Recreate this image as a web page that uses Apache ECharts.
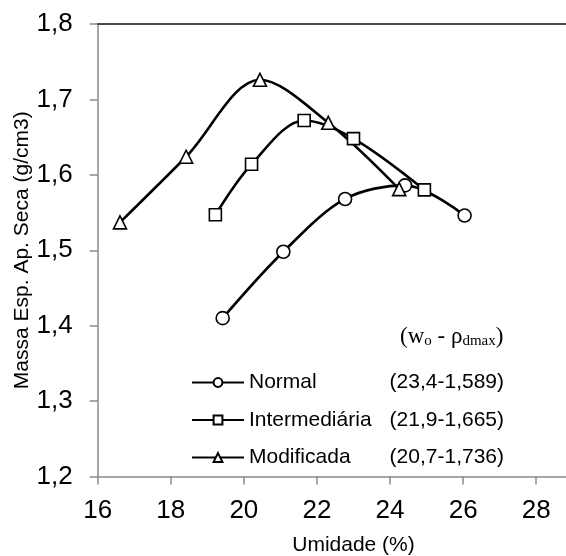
<!DOCTYPE html>
<html>
<head>
<meta charset="utf-8">
<script src="https://cdn.jsdelivr.net/npm/echarts@6/dist/echarts.min.js"></script>
<style>
html,body{margin:0;padding:0;background:#fff;}
#c{width:566px;height:556px;}
</style>
</head>
<body>
<div id="c"></div>
<script>
// Data
const seriesNames = ['Normal', 'Intermediária', 'Modificada'];
const optimumLabels = ['(23,4-1,589)', '(21,9-1,665)', '(20,7-1,736)'];
const normalX = [19.42, 21.08, 22.77, 24.41, 26.04];
const normalY = [1.410, 1.498, 1.568, 1.586, 1.546];
const interX = [19.22, 20.21, 21.65, 23.00, 24.94];
const interY = [1.547, 1.614, 1.672, 1.648, 1.580];
const modX = [16.61, 18.42, 20.44, 22.31, 24.25];
const modY = [1.537, 1.624, 1.726, 1.669, 1.581];
const symbols = ['circle', 'rect', 'triangle'];

const xs = [normalX, interX, modX];
const ys = [normalY, interY, modY];

const FONT = 'Liberation Sans, Arial, sans-serif';
const SERIF = 'Liberation Serif, Times New Roman, serif';
const chart = echarts.init(document.getElementById('c'), null, {renderer: 'canvas'});

const series = seriesNames.map((name, i) => ({
  name: name,
  type: 'line',
  smooth: 0.33,
  data: xs[i].map((x, k) => [x, ys[i][k]]),
  symbol: symbols[i],
  symbolSize: i === 1 ? 12 : 13,
  showAllSymbol: true,
  lineStyle: {color: '#000', width: 2.6},
  itemStyle: {color: '#fff', borderColor: '#000', borderWidth: 1.6},
  emphasis: {disabled: true},
  animation: false
}));

const labelMap = {};
seriesNames.forEach((n, i) => { labelMap[n] = optimumLabels[i]; });

chart.setOption({
  animation: false,
  backgroundColor: '#fff',
  grid: {left: 97.7, top: 24, right: -43.3, bottom: 79.5, outerBoundsMode: 'none'},
  xAxis: [{
    type: 'value', min: 16, max: 30, interval: 2, position: 'bottom',
    name: 'Umidade (%)', nameLocation: 'middle', nameGap: 58,
    nameTextStyle: {fontFamily: FONT, fontSize: 21, color: '#000'},
    axisLine: {show: true, onZero: false, lineStyle: {color: '#8a8a8a', width: 1.5}},
    axisTick: {show: true, length: 8, lineStyle: {color: '#8a8a8a', width: 1.5}},
    axisLabel: {fontFamily: FONT, fontSize: 26, color: '#000', margin: 21, showMaxLabel: false},
    splitLine: {show: false}
  }, {
    type: 'value', min: 16, max: 30, interval: 2, position: 'top',
    axisLine: {show: true, onZero: false, lineStyle: {color: '#111', width: 1.5}},
    axisTick: {show: false}, axisLabel: {show: false}, splitLine: {show: false}
  }],
  yAxis: {
    type: 'value', min: 1.2, max: 1.8, interval: 0.1,
    name: 'Massa Esp. Ap. Seca (g/cm3)', nameLocation: 'middle', nameGap: 65,
    nameMoveOverlap: false,
    nameTextStyle: {fontFamily: FONT, fontSize: 21, color: '#000'},
    axisLine: {show: true, onZero: false, lineStyle: {color: '#8a8a8a', width: 1.5}},
    axisTick: {show: true, length: 8, lineStyle: {color: '#8a8a8a', width: 1.5}},
    axisLabel: {fontFamily: FONT, fontSize: 26, color: '#000', margin: 25,
      formatter: v => v.toFixed(1).replace('.', ',')},
    splitLine: {show: false}
  },
  legend: {
    data: seriesNames,
    orient: 'vertical',
    left: 191, top: 372, padding: 0,
    itemWidth: 52, itemHeight: 11, itemGap: 16.5,
    selectedMode: false,
    formatter: n => '{a|' + n + '}{b|' + labelMap[n] + '}',
    textStyle: {
      fontFamily: FONT, fontSize: 21, color: '#000',
      rich: {
        a: {fontFamily: FONT, fontSize: 21, color: '#000', width: 135},
        b: {fontFamily: FONT, fontSize: 21, color: '#000', width: 120, align: 'right'}
      }
    }
  },
  graphic: [{
    type: 'text', left: 400, top: 325, silent: true,
    style: {
      text: '(w{s|o} - ρ{s|dmax})',
      fontFamily: SERIF,
      fontSize: 23, fill: '#000',
      rich: {
        s: {fontFamily: SERIF, fontSize: 15, fill: '#000', padding: [9, 0, 0, 0]}
      }
    }
  }],
  series: series
});
</script>
</body>
</html>
